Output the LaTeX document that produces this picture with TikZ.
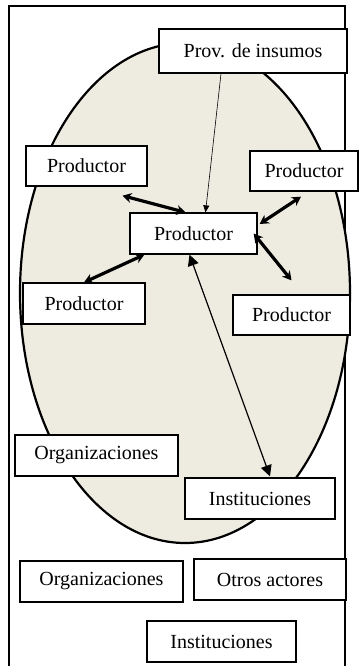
\documentclass[tikz,border=0pt]{standalone}
\usepackage{fontspec}
\setmainfont{Liberation Serif}
\usepackage{xcolor}
\usetikzlibrary{arrows.meta, positioning}

\definecolor{ovalfill}{HTML}{EEECE1}

\begin{document}
\begin{tikzpicture}[x=0.5pt, y=-0.5pt, font=\fontsize{10}{12}\selectfont]
    \tikzset{actor/.style={draw=black, fill=white, line width=0.65pt, inner sep=1pt, minimum height=20.5pt},
             tie/.style={{Stealth[length=4.5pt,width=5pt]}-{Stealth[length=4.5pt,width=5pt]}, line width=1.6pt},
             supply/.style={-{Triangle[length=3.5pt,width=3pt]}, line width=0.3pt},
             link/.style={{Triangle[length=5.5pt,width=5.5pt]}-{Triangle[length=5.5pt,width=5.5pt]}, line width=0.6pt}}
    \useasboundingbox (0,0) rectangle (359,666);

    % --- FRAME AND OVAL ---
    \draw[line width=0.65pt] (9,666) -- (9,6) -- (345,6) -- (345,666);
    \draw[fill=ovalfill, line width=1.1pt] (185,293) ellipse [x radius=165, y radius=250];

    % --- NODES ---
    % Inside the oval, top to bottom
    \node[actor, minimum width=94pt, minimum height=22pt] (prov) at (253,51) {Prov. de insumos};
    \node[actor, minimum width=60.5pt, minimum height=20pt] (ptl) at (86.5,166) {Productor};   % Top-Left
    \node[actor, minimum width=54pt, minimum height=20pt] (ptr) at (304,171) {Productor};     % Top-Right
    \node[actor, minimum width=63.5pt] (pc) at (193.5,233.5) {Productor};                    % Centre
    \node[actor, minimum width=61pt] (plb) at (84,303.5) {Productor};                        % Bottom-Left
    \node[actor, minimum width=58.5pt, minimum height=20pt] (prb) at (291.5,315) {Productor}; % Bottom-Right
    \node[actor, minimum width=81.5pt] (org1) at (96.5,455.5) {Organizaciones};
    \node[actor, minimum width=75pt] (inst1) at (260,498.5) {Instituciones};

    % Outside the oval
    \node[actor, minimum width=81.5pt] (org2) at (101.5,581.5) {Organizaciones};
    \node[actor, minimum width=76pt] (otros) at (270,579.5) {Otros actores};
    \node[actor, minimum width=74.5pt] (inst2) at (221.5,641.5) {Instituciones};

    % --- EDGES ---
    \draw[supply] ([xshift=-16pt]prov.south) -- ([xshift=6pt]pc.north);

    \draw[tie] ([xshift=18pt,yshift=-4.5pt]ptl.south) -- ([xshift=-4pt]pc.north);
    \draw[tie] ([xshift=-1.5pt,yshift=-2.5pt]ptr.south) -- ([xshift=1pt,yshift=4.75pt]pc.east);
    \draw[tie] ([xshift=-2pt]pc.east) -- ([yshift=7pt]prb.north);
    \draw[tie] ([xshift=7.5pt]pc.south west) -- (plb.north);

    \draw[link] ([xshift=-2pt]pc.south) -- ([xshift=5pt,yshift=0.5pt]inst1.north);

\end{tikzpicture}
\end{document}
